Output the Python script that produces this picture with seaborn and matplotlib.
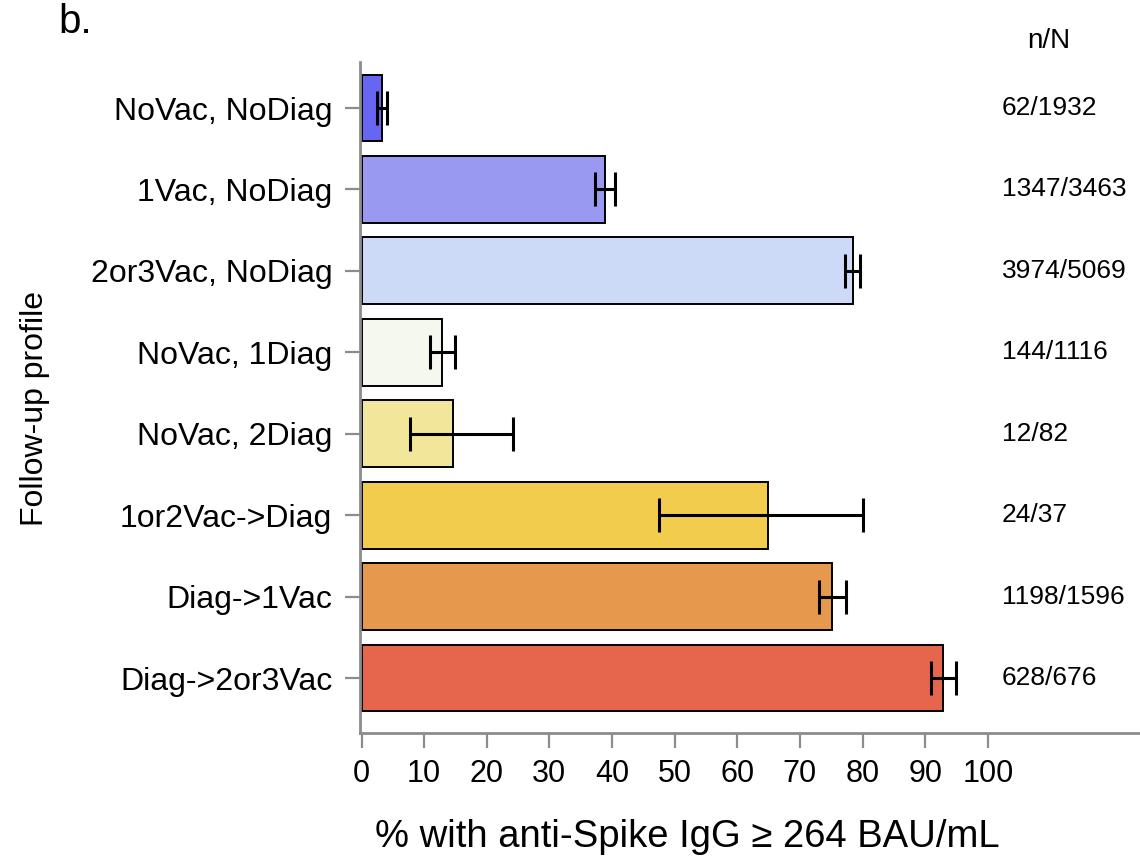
import matplotlib
matplotlib.use("Agg")
import matplotlib.pyplot as plt
import seaborn as sns
import pandas as pd

profiles = ["NoVac, NoDiag", "1Vac, NoDiag", "2or3Vac, NoDiag", "NoVac, 1Diag",
            "NoVac, 2Diag", "1or2Vac->Diag", "Diag->1Vac", "Diag->2or3Vac"]
pct = [3.2, 38.9, 78.4, 12.9, 14.6, 64.9, 75.1, 92.9]
ci_low = [2.4, 37.3, 77.2, 10.9, 7.8, 47.5, 73.0, 90.9]
ci_high = [4.0, 40.4, 79.6, 15.0, 24.2, 80.0, 77.3, 94.9]
counts = ["62/1932", "1347/3463", "3974/5069", "144/1116", "12/82", "24/37", "1198/1596", "628/676"]
colors = ["#6666f2", "#9999f2", "#ccdaf8", "#f5f8ee", "#f2e69a", "#f2cc4d", "#e6994d", "#e6664d"]

sns.set_style("white")
plt.rcParams['font.family'] = ['Liberation Sans', 'DejaVu Sans']
plt.rcParams['text.color'] = 'black'
plt.rcParams['axes.labelcolor'] = 'black'
plt.rcParams['xtick.color'] = 'black'
plt.rcParams['ytick.color'] = 'black'

df = pd.DataFrame({"profile": profiles, "pct": pct})

fig = plt.figure(figsize=(11.4, 8.6), dpi=100)
ax = fig.add_axes([360/1140, 1-733/860, 1-360/1140, (733-62)/860])

sns.barplot(data=df, x="pct", y="profile", hue="profile", palette=colors,
            order=profiles, hue_order=profiles, legend=False, orient="h",
            width=0.82, edgecolor="black", linewidth=1.4, saturation=1, ax=ax)

xerr = [[p - l for p, l in zip(pct, ci_low)], [h - p for p, h in zip(pct, ci_high)]]
ax.errorbar(pct, list(range(len(profiles))), xerr=xerr, fmt="none", ecolor="black",
            elinewidth=2.2, capsize=12.5, capthick=2.2)

ax.set_xlim(-0.24, 124.3)
ax.set_ylim(7.675, -0.565)
ax.set_xticks(range(0, 101, 10))
ax.tick_params(axis="x", labelsize=22, length=11, width=1.6, color="#8c8c8c", pad=8,
               labelcolor="black")
ax.tick_params(axis="y", labelsize=23, length=11, width=1.6, color="#8c8c8c", pad=9,
               labelcolor="black")
ax.tick_params(bottom=True, left=True)

for s in ["top", "right"]:
    ax.spines[s].set_visible(False)
for s in ["left", "bottom"]:
    ax.spines[s].set_color("#8c8c8c")
    ax.spines[s].set_linewidth(2.0)

ax.set_xlabel("% with anti-Spike IgG \u2265 264 BAU/mL", fontsize=27.5)
ax.xaxis.set_label_coords((687-360)/780, (733-837)/671)
ax.xaxis.label.set_va("center")
ax.set_ylabel("Follow-up profile", fontsize=23)
ax.yaxis.set_label_coords((35-360)/780, (733-408)/671)
ax.yaxis.label.set_va("center")

for i, c in enumerate(counts):
    ax.text(102.2, i, c, fontsize=19, va="center", ha="left")
ax.text(109.7, -0.823, "n/N", fontsize=20, va="center", ha="center", clip_on=False)

fig.text(58/1140, 1-33/860, "b.", fontsize=29, va="baseline", ha="left")

fig.savefig("out.png", dpi=100)
